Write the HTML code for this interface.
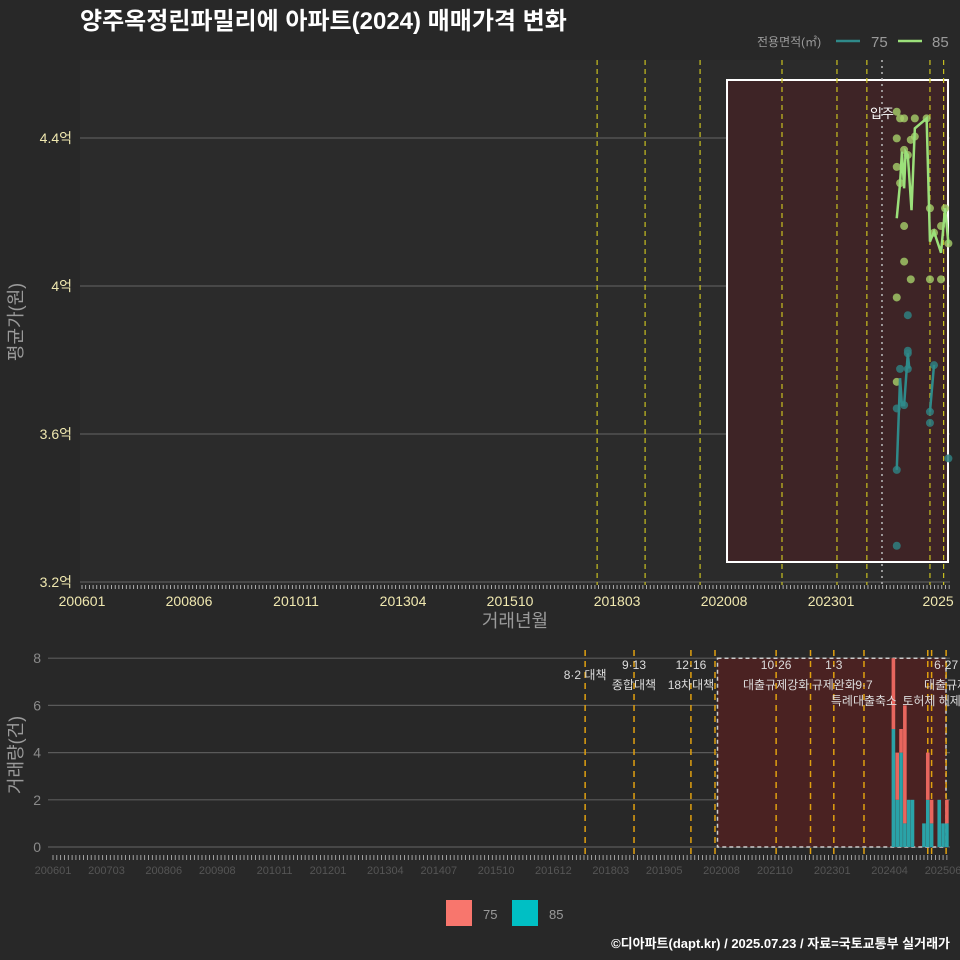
<!DOCTYPE html>
<html><head><meta charset="utf-8">
<style>
html,body{margin:0;padding:0;background:#282828;}
svg{display:block;font-family:"Liberation Sans","Noto Sans CJK KR",sans-serif;}
</style></head>
<body>
<svg id="c" width="960" height="960" viewBox="0 0 960 960">
<rect x="0" y="0" width="960" height="960" fill="#282828"/>
<text x="80" y="29" fill="#ffffff" font-size="24" font-weight="bold">양주옥정린파밀리에 아파트(2024) 매매가격 변화</text>
<g>
<text x="757" y="46" fill="#9a9a9a" font-size="12">전용면적(㎡)</text>
<line x1="836" y1="41" x2="860" y2="41" stroke="#2f8a8a" stroke-width="2.5"/>
<text x="871" y="47" fill="#9a9a9a" font-size="15">75</text>
<line x1="898" y1="41" x2="922" y2="41" stroke="#9be07a" stroke-width="2.5"/>
<text x="932" y="47" fill="#9a9a9a" font-size="15">85</text>
</g>
<g id="topPanel"></g>
<g id="botPanel"></g>
<g>
<rect x="446" y="900" width="26" height="26" fill="#F8766D"/>
<text x="483" y="919" fill="#9a9a9a" font-size="13">75</text>
<rect x="512" y="900" width="26" height="26" fill="#00BFC4"/>
<text x="549" y="919" fill="#9a9a9a" font-size="13">85</text>
</g>
<text x="950" y="948" text-anchor="end" fill="#ffffff" font-size="13" font-weight="bold">©디아파트(dapt.kr) / 2025.07.23 / 자료=국토교통부 실거래가</text>
</svg>
<script>
// month index: 0 = 2006-01
const priceTicks=[3.2,3.6,4.0,4.4];
const priceTickLabels=["3.2억","3.6억","4억","4.4억"];
const topXTicks=[0,29,58,87,116,145,174,203,232];
const topXLabels=["200601","200806","201011","201304","201510","201803","202008","202301","2025"];
const line85Months=[220.8,221.7,222.2,222.8,223.2,223.8,224.8,225.7,228.9,229.8,230.9,232.8,233.9,234.8];
const line85Prices=[4.183,4.278,4.363,4.264,4.363,4.354,4.205,4.426,4.453,4.120,4.147,4.090,4.210,4.115];
const line75Months=[220.8,221.7,222.2,222.8,223.8,224.2];
const line75Prices=[3.503,3.751,3.678,3.678,3.818,3.777];
const line75bMonths=[229.8,230.9];
const line75bPrices=[3.660,3.787];
const pts85Months=[220.8,221.7,222.8,225.7,228.9,220.8,224.6,225.7,220.8,221.7,222.8,223.8,229.8,233.9,222.8,232.8,222.8,224.6,229.8,232.8,220.8,220.8,234.8,230.9];
const pts85Prices=[4.471,4.453,4.453,4.453,4.453,4.399,4.395,4.404,4.322,4.278,4.368,4.354,4.210,4.210,4.162,4.162,4.066,4.018,4.018,4.018,3.969,3.741,4.115,4.144];
const pts75Months=[223.8,223.8,223.8,221.7,223.8,220.8,222.8,220.8,229.8,229.8,230.9,234.8,220.8];
const pts75Prices=[3.921,3.825,3.818,3.776,3.776,3.669,3.678,3.503,3.660,3.630,3.786,3.534,3.298];
const policyTopMonths=[139.6,152.6,167.5,189.7,204.6,212.7,229.8,233.5];
const movInMonth=216.8;
const shadeStart=174.8;
// bottom
const volTicks=[0,2,4,6,8];
const botXTicks=[0,14,29,43,58,72,87,101,116,131,146,160,175,189,204,219,233];
const botXLabels=["200601","200703","200806","200908","201011","201201","201304","201407","201510","201612","201803","201905","202008","202110","202301","202404","202506"];
const barMonths=[220,221,222,223,224,225,228,229,230,232,233,234];
const bar75=[3,2,1,5,0,0,0,2,1,0,0,1];
const bar85=[5,2,4,1,2,2,1,2,1,2,1,1];
const policyBotMonths=[139.3,152.1,167,173.3,189.3,198.3,204.4,212.3,229,230,233.8];
const policyLabels=[["8·2 대책",139.3,679],["9·13",152.1,669],["종합대책",152.1,689],["12·16",167,669],["18차대책",167,689],["10·26",189.3,669],["대출규제강화",189.3,689],["1·3",204.4,669],["규제완화",204.4,689],["9·7",212.3,689],["특례대출축소",212.3,705],["토허제 해제",230,705],["6·27",233.8,669],["대출규제",233.8,689]];

const NS="http://www.w3.org/2000/svg";
function mk(p,tag,attrs,txt){const el=document.createElementNS(NS,tag);for(const k in attrs)el.setAttribute(k,attrs[k]);if(txt!=null)el.textContent=txt;p.appendChild(el);return el;}
const topG=document.getElementById('topPanel'),botG=document.getElementById('botPanel');
const TX0=80,TX1=950,TY0=60,TY1=585;
const tx=m=>82+m*3.69;
const ty=v=>286-(v-4.0)*370;
let e;
e=mk(topG,'rect',{x:TX0,y:TY0,width:TX1-TX0,height:TY1-TY0,fill:'#2b2b2b'});


priceTicks.forEach((v,i)=>{
 e=mk(topG,'line',{x1:TX0,x2:TX1,y1:ty(v),y2:ty(v),stroke:'#5a5a5a','stroke-width':1.2});
 
 
 e=mk(topG,'text',{x:72,y:ty(v)+5,'text-anchor':'end',fill:'#f0e8b0','font-size':14},priceTickLabels[i]);
 
 
});
e=mk(topG,'rect',{x:tx(shadeStart),y:80,width:948-tx(shadeStart),height:482,fill:'#3e2426',stroke:'#ffffff','stroke-width':2});


policyTopMonths.forEach(m=>{
 e=mk(topG,'line',{x1:tx(m),x2:tx(m),y1:TY0,y2:TY1,stroke:'#c8c020','stroke-width':1.2,'stroke-dasharray':'5,4'});
 
 
});
e=mk(topG,'line',{x1:tx(movInMonth),x2:tx(movInMonth),y1:TY0,y2:TY1,stroke:'#bbbbbb','stroke-width':1.5,'stroke-dasharray':'2,4'});


e=mk(topG,'text',{x:tx(movInMonth),y:118,'text-anchor':'middle',fill:'#ffffff','font-size':13},'입주');


pts85Months.forEach((m,i)=>{
 e=mk(topG,'circle',{cx:tx(m),cy:ty(pts85Prices[i]),r:4,fill:'#a6d06a','fill-opacity':0.8});
 
 
});
pts75Months.forEach((m,i)=>{
 e=mk(topG,'circle',{cx:tx(m),cy:ty(pts75Prices[i]),r:4,fill:'#2f7f80','fill-opacity':0.85});
 
 
});
function poly(ms,vs,col,name){
 e=mk(topG,'polyline',{points:ms.map((m,i)=>tx(m)+','+ty(vs[i])).join(' '),fill:'none',stroke:col,'stroke-width':2.5});
 
 
}
poly(line85Months,line85Prices,'#9be07a','price-line-85');
poly(line75Months,line75Prices,'#2f8a8a','price-line-75');
poly(line75bMonths,line75bPrices,'#2f8a8a','price-line-75-recent');
let d='';for(let m=0;m<=236;m++){const x=tx(m);if(x<=TX1)d+=`M${x},585v4`;}
e=mk(topG,'path',{d:d,stroke:'#cccccc','stroke-width':0.8});


topXTicks.forEach((m,i)=>{
 e=mk(topG,'text',{x:tx(m),y:606,'text-anchor':'middle',fill:'#f0e8b0','font-size':14},topXLabels[i]);
 
 
});
e=mk(topG,'text',{x:515,y:627,'text-anchor':'middle',fill:'#9a9a9a','font-size':18},'거래년월');


e=mk(topG,'text',{x:22,y:322,'text-anchor':'middle',fill:'#9a9a9a','font-size':18,transform:'rotate(-90 22 322)'},'평균가(원)');


const BX0=48,BX1=950;
const bx=m=>53+m*3.82;
const by=v=>847-v*23.6;
volTicks.forEach(v=>{
 e=mk(botG,'line',{x1:BX0,x2:BX1,y1:by(v),y2:by(v),stroke:'#5a5a5a','stroke-width':1.2});
 
 
 e=mk(botG,'text',{x:41,y:by(v)+5,'text-anchor':'end',fill:'#8a8a8a','font-size':14},String(v));
 
 
});
e=mk(botG,'rect',{x:bx(175)-4,y:by(8),width:946-bx(175)+4,height:by(0)-by(8),fill:'#4a2222',stroke:'#cccccc','stroke-width':1.5,'stroke-dasharray':'4,3'});


policyBotMonths.forEach(m=>{
 e=mk(botG,'line',{x1:bx(m),x2:bx(m),y1:650,y2:855,stroke:'#e0a010','stroke-width':1.5,'stroke-dasharray':'6,5'});
 
 
});
barMonths.forEach((m,i)=>{
 const w=3.6,x=bx(m)-w/2;
 if(bar85[i]>0){e=mk(botG,'rect',{x:x,y:by(bar85[i]),width:w,height:by(0)-by(bar85[i]),fill:'#2aa3a8'});
 
 }
 if(bar75[i]>0){e=mk(botG,'rect',{x:x,y:by(bar85[i]+bar75[i]),width:w,height:by(bar85[i])-by(bar85[i]+bar75[i]),fill:'#e8665e'});
 
 }
});
policyLabels.forEach(p=>{
 e=mk(botG,'text',{x:bx(p[1]),y:p[2],'text-anchor':'middle',fill:'#dddddd','font-size':12},p[0]);
 
 
});
d='';for(let m=0;m<=236;m++){const x=bx(m);if(x<=BX1)d+=`M${x},855v5`;}
e=mk(botG,'path',{d:d,stroke:'#bbbbbb','stroke-width':0.8});


botXLabels.forEach((l,i)=>{
 e=mk(botG,'text',{x:bx(botXTicks[i]),y:874,'text-anchor':'middle',fill:'#555555','font-size':11},l);
 
 
});
e=mk(botG,'text',{x:22,y:755,'text-anchor':'middle',fill:'#9a9a9a','font-size':18,transform:'rotate(-90 22 755)'},'거래량(건)');


</script>
</body></html>
